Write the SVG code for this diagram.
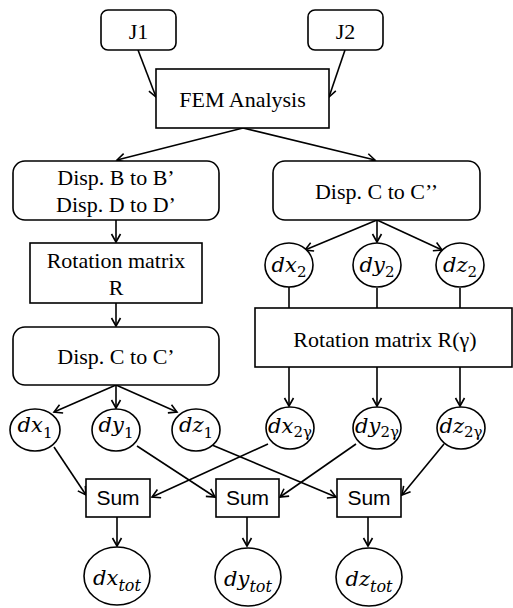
<svg xmlns="http://www.w3.org/2000/svg" width="513" height="608" viewBox="0 0 513 608">
<style>
.box{fill:#fff;stroke:#000;stroke-width:1.6}
.c{fill:#fff;stroke:#000;stroke-width:1.6}
.t{font-family:"Liberation Serif","Times New Roman",serif;font-size:22px;text-anchor:middle;fill:#000}
.s{font-family:"Liberation Sans",Arial,sans-serif;font-size:21px;text-anchor:middle;fill:#000}
.m{font-family:"DejaVu Serif","Liberation Serif",serif;font-style:italic;font-size:21px;text-anchor:middle;fill:#000}
.sub{font-size:15px;font-style:normal}
.subi{font-size:16px}
#connectors line{stroke:#000;stroke-width:1.6}
.a{marker-end:url(#ah)}
</style>
<defs>
<marker id="ah" markerUnits="userSpaceOnUse" markerWidth="12" markerHeight="12" viewBox="-10 -6 12 12" refX="0" refY="0" orient="auto">
<path d="M-8,-4.5 L0,0 L-8,4.5" fill="none" stroke="#000" stroke-width="1.6"/>
</marker>
</defs>
<rect width="513" height="608" fill="#fff"/>
<g id="connectors">
<line class="a" x1="138" y1="50" x2="156" y2="97"/>
<line class="a" x1="345" y1="50" x2="329" y2="97"/>
<line class="a" x1="243" y1="128" x2="117" y2="160"/>
<line class="a" x1="243" y1="128" x2="375" y2="160"/>
<line class="a" x1="116" y1="220" x2="116" y2="242"/>
<line class="a" x1="377" y1="220" x2="305" y2="250"/>
<line class="a" x1="377" y1="220" x2="377" y2="242"/>
<line class="a" x1="377" y1="220" x2="442" y2="250"/>
<line x1="289" y1="287" x2="289" y2="308"/>
<line x1="377" y1="288" x2="377" y2="308"/>
<line x1="460" y1="288" x2="460" y2="308"/>
<line class="a" x1="116" y1="303" x2="116" y2="326"/>
<line class="a" x1="289" y1="367" x2="289" y2="406"/>
<line class="a" x1="377" y1="367" x2="377" y2="406"/>
<line class="a" x1="460" y1="367" x2="460" y2="406"/>
<line class="a" x1="116" y1="385" x2="54" y2="412"/>
<line class="a" x1="116" y1="385" x2="116" y2="408"/>
<line class="a" x1="116" y1="385" x2="177" y2="412"/>
<line class="a" x1="54" y1="447" x2="86" y2="495"/>
<line class="a" x1="137" y1="446" x2="215" y2="497"/>
<line class="a" x1="212" y1="445" x2="336" y2="497"/>
<line class="a" x1="268" y1="444" x2="152" y2="497"/>
<line class="a" x1="356" y1="444" x2="280" y2="497"/>
<line class="a" x1="444" y1="444" x2="402" y2="495"/>
<line class="a" x1="117" y1="517" x2="117" y2="546"/>
<line class="a" x1="247" y1="517" x2="247" y2="546"/>
<line class="a" x1="368" y1="517" x2="368" y2="546"/>
</g>
<g id="J1"><rect class="box" x="101" y="10" width="75" height="40" rx="7"/><text class="t" x="138.5" y="39">J1</text></g>
<g id="J2"><rect class="box" x="308" y="10" width="75" height="40" rx="7"/><text class="t" x="345.5" y="39">J2</text></g>
<g id="FEM"><rect class="box" x="156" y="69" width="173" height="59"/><text class="t" x="242.5" y="107">FEM Analysis</text></g>
<g id="DispBD"><rect class="box" x="13" y="161" width="206" height="59" rx="12"/><text class="t" x="116" y="185">Disp. B to B’</text><text class="t" x="116" y="212">Disp. D to D’</text></g>
<g id="DispCC2"><rect class="box" x="273" y="161" width="207" height="59" rx="12"/><text class="t" x="376.5" y="199">Disp. C to C’’</text></g>
<g id="RotR"><rect class="box" x="30" y="243" width="172" height="60"/><text class="t" x="116" y="268">Rotation matrix</text><text class="t" x="116" y="295">R</text></g>
<g id="RotRg"><rect class="box" x="255" y="308" width="257" height="59"/><text class="t" x="385" y="347">Rotation matrix R(γ)</text></g>
<g id="DispCC1"><rect class="box" x="13" y="327" width="206" height="58" rx="12"/><text class="t" x="116" y="364">Disp. C to C’</text></g>
<g id="dx2"><ellipse class="c" cx="289" cy="265" rx="24" ry="22"/><text class="m" x="289" y="272">dx<tspan class="sub" dy="5">2</tspan></text></g>
<g id="dy2"><ellipse class="c" cx="377" cy="265" rx="24" ry="22"/><text class="m" x="377" y="272">dy<tspan class="sub" dy="5">2</tspan></text></g>
<g id="dz2"><ellipse class="c" cx="460" cy="265" rx="24" ry="22"/><text class="m" x="460" y="272">dz<tspan class="sub" dy="5">2</tspan></text></g>
<g id="dx1"><ellipse class="c" cx="35" cy="430" rx="25" ry="21"/><text class="m" x="35" y="432">dx<tspan class="sub" dy="6">1</tspan></text></g>
<g id="dy1"><ellipse class="c" cx="116" cy="430" rx="24" ry="21"/><text class="m" x="116" y="432">dy<tspan class="sub" dy="6">1</tspan></text></g>
<g id="dz1"><ellipse class="c" cx="196" cy="430" rx="24" ry="21"/><text class="m" x="196" y="432">dz<tspan class="sub" dy="6">1</tspan></text></g>
<g id="dx2g"><ellipse class="c" cx="290" cy="428" rx="24" ry="21"/><text class="m" x="290" y="433">dx<tspan class="sub" dy="4">2γ</tspan></text></g>
<g id="dy2g"><ellipse class="c" cx="377" cy="428" rx="24" ry="21"/><text class="m" x="377" y="433">dy<tspan class="sub" dy="4">2γ</tspan></text></g>
<g id="dz2g"><ellipse class="c" cx="461" cy="428" rx="24" ry="21"/><text class="m" x="461" y="433">dz<tspan class="sub" dy="4">2γ</tspan></text></g>
<g id="sum1"><rect class="box" x="86" y="479" width="64" height="38"/><text class="s" x="118" y="505">Sum</text></g>
<g id="sum2"><rect class="box" x="216" y="479" width="63" height="38"/><text class="s" x="247.5" y="505">Sum</text></g>
<g id="sum3"><rect class="box" x="337" y="479" width="64" height="38"/><text class="s" x="369" y="505">Sum</text></g>
<g id="dxtot"><ellipse class="c" cx="117" cy="576" rx="33" ry="29"/><text class="m" x="117" y="585">dx<tspan class="subi" dy="6">tot</tspan></text></g>
<g id="dytot"><ellipse class="c" cx="248" cy="577" rx="33" ry="29"/><text class="m" x="248" y="586">dy<tspan class="subi" dy="6">tot</tspan></text></g>
<g id="dztot"><ellipse class="c" cx="369" cy="577" rx="33" ry="29"/><text class="m" x="369" y="586">dz<tspan class="subi" dy="6">tot</tspan></text></g>
</svg>
